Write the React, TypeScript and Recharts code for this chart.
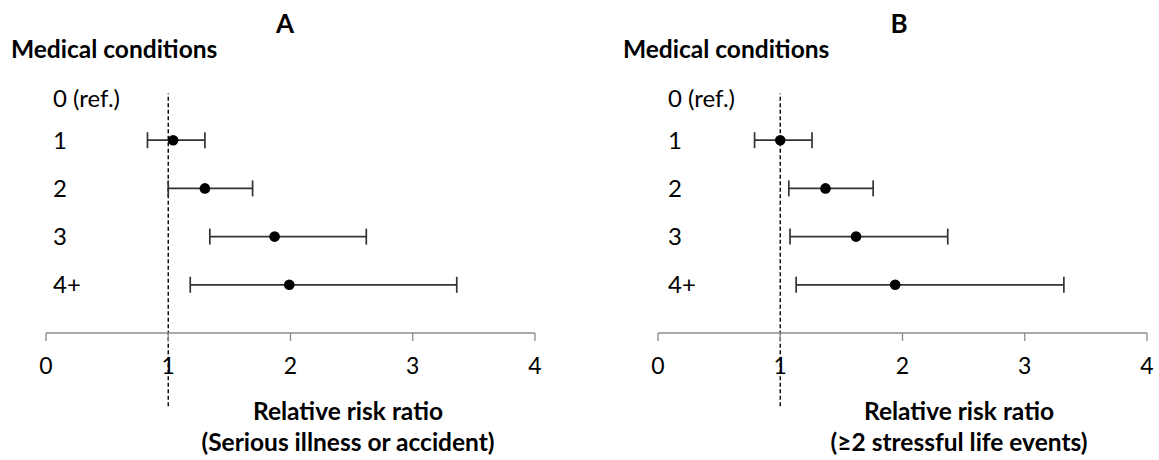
import React from 'react';
import { ScatterChart, Scatter, XAxis, YAxis, ErrorBar, ReferenceLine } from 'recharts';

const FONT = 'Lato, "Open Sans", sans-serif';

const categories = ['0 (ref.)', '1', '2', '3', '4+'];
const rowPositions = [4.86, 4, 3, 2, 1];
const xTicks = [0, 1, 2, 3, 4];
const referenceValue = 1;

const estimatesA = [1.04, 1.3, 1.87, 1.99];
const lowerA = [0.83, 1.0, 1.34, 1.18];
const upperA = [1.3, 1.69, 2.62, 3.36];

const estimatesB = [1.0, 1.37, 1.62, 1.94];
const lowerB = [0.79, 1.07, 1.08, 1.13];
const upperB = [1.26, 1.76, 2.37, 3.32];

function buildRows(est: number[], lo: number[], hi: number[]) {
  return est.map((v, i) => ({
    cat: categories[i + 1],
    x: v,
    y: rowPositions[i + 1],
    err: [v - lo[i], hi[i] - v],
  }));
}

const dataA = buildRows(estimatesA, lowerA, upperA);
const dataB = buildRows(estimatesB, lowerB, upperB);

const Dot = (p: any) => <circle cx={p.cx} cy={p.cy} r={5.3} fill="#000" />;

const CategoryTick = (p: any) => {
  const idx = rowPositions.indexOf(p.payload.value);
  return (
    <text x={p.x} y={p.y} dy="0.355em" textAnchor="start" fill="#000" fontSize={24} fontFamily={FONT}>
      {categories[idx]}
    </text>
  );
};

function Panel({ data, width, margin, labelGap }: any) {
  return (
    <ScatterChart width={width} height={460} margin={margin}>
      <XAxis
        type="number"
        dataKey="x"
        domain={[0, 4]}
        ticks={xTicks}
        interval={0}
        allowDataOverflow
        height={30}
        axisLine={{ stroke: '#8c8c8c', strokeWidth: 1.3 }}
        tickLine={{ stroke: '#8c8c8c', strokeWidth: 1.3 }}
        tickSize={8}
        tickMargin={17}
        tick={{ fill: '#000', fontSize: 23, fontFamily: FONT }}
      />
      <YAxis
        type="number"
        dataKey="y"
        domain={[0, 5]}
        ticks={rowPositions}
        interval={0}
        allowDataOverflow
        mirror
        width={1}
        axisLine={false}
        tickLine={false}
        tickSize={0}
        tickMargin={labelGap}
        tick={CategoryTick}
      />
      <ReferenceLine
        segment={[
          { x: referenceValue, y: -1.52 },
          { x: referenceValue, y: 4.97 },
        ]}
        stroke="#000"
        strokeWidth={1.4}
        strokeDasharray="4 2.5"
        ifOverflow="visible"
      />
      <Scatter data={data} isAnimationActive={false} shape={Dot}>
        <ErrorBar dataKey="err" direction="x" width={8} stroke="#333" strokeWidth={1.7} isAnimationActive={false} />
      </Scatter>
    </ScatterChart>
  );
}

export default function App() {
  return (
    <div style={{ position: 'absolute', left: 0, top: 0, width: 1159, height: 460, background: '#fff' }}>
      <div style={{ position: 'absolute', left: 0, top: 0 }}>
        <Panel data={dataA} width={579} margin={{ top: 92, right: 44, bottom: 97, left: 46 }} labelGap={7} />
      </div>
      <div style={{ position: 'absolute', left: 579, top: 0 }}>
        <Panel data={dataB} width={580} margin={{ top: 92, right: 12, bottom: 97, left: 79 }} labelGap={10} />
      </div>
      <svg width={1159} height={460} style={{ position: 'absolute', left: 0, top: 0, pointerEvents: 'none' }}>
        <g fontFamily={FONT} fill="#000" fontWeight="bold">
          <text x={285} y={23} fontSize={26} textAnchor="middle" dominantBaseline="central">A</text>
          <text x={11} y={48.5} fontSize={24.5} dominantBaseline="central">Medical conditions</text>
          <text x={348} y={410} fontSize={24.5} textAnchor="middle" dominantBaseline="central">Relative risk ratio</text>
          <text x={348} y={441.5} fontSize={24.5} textAnchor="middle" dominantBaseline="central">(Serious illness or accident)</text>
          <text x={899} y={23} fontSize={26} textAnchor="middle" dominantBaseline="central">B</text>
          <text x={623} y={48.5} fontSize={24.5} dominantBaseline="central">Medical conditions</text>
          <text x={959} y={410} fontSize={24.5} textAnchor="middle" dominantBaseline="central">Relative risk ratio</text>
          <text x={959} y={441.5} fontSize={24.5} textAnchor="middle" dominantBaseline="central">(≥2 stressful life events)</text>
        </g>
      </svg>
    </div>
  );
}
